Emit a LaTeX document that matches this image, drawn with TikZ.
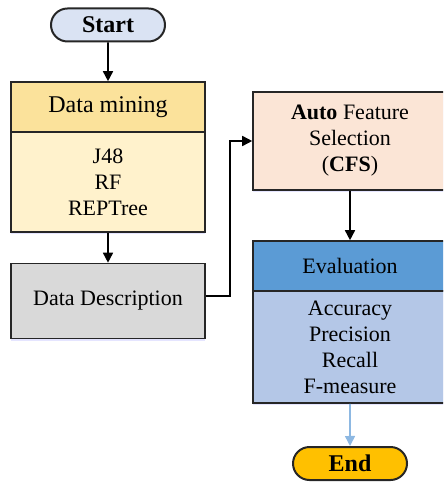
\documentclass[tikz,border=0pt]{standalone}
\usepackage{fontspec}
\setmainfont{Liberation Serif}
\usetikzlibrary{arrows.meta,shapes.misc,shadows}
\definecolor{startblue}{HTML}{DAE3F3}
\definecolor{minehead}{HTML}{FBE29B}
\definecolor{minebody}{HTML}{FFF2CC}
\definecolor{descgray}{HTML}{D9D9D9}
\definecolor{cfspeach}{HTML}{FBE5D6}
\definecolor{evalhead}{HTML}{5B9BD5}
\definecolor{evalbody}{HTML}{B4C7E7}
\definecolor{endgold}{HTML}{FFC000}
\definecolor{lightarrow}{HTML}{8DB8E2}
\begin{document}
\begin{tikzpicture}[x=0.5pt, y=-0.5pt,
    box/.style={draw=black!85, line width=0.8pt, rectangle, minimum width=97pt,
        align=center, font=\fontsize{11}{13}\selectfont,
        drop shadow={shadow xshift=0pt, shadow yshift=-1.2pt, fill=blue!25, opacity=0.4}},
    pill/.style={draw=black!85, line width=1pt, rounded rectangle, minimum width=57pt,
        minimum height=16.5pt, inner sep=0pt, font=\fontsize{12}{14}\selectfont\bfseries},
    flow/.style={line width=0.8pt, -{Triangle[length=5pt, width=5pt]}}]
    \path[use as bounding box, clip] (0,0) rectangle (443,485);
    \node[pill, fill=startblue] (start) at (108,25) {Start};
    \node[box, fill=minehead, minimum height=25pt, font=\fontsize{12}{14}\selectfont] (minehd) at (108,107) {Data mining};
    \node[box, fill=minebody, minimum height=50pt] (minebd) at (108,182) {J48\\RF\\REPTree};
    \node[box, fill=descgray, minimum height=37.5pt] (desc) at (108,301) {Data Description};
    \node[box, fill=cfspeach, minimum height=49pt] (cfs) at (350,141) {\textbf{Auto} Feature\\Selection\\(\textbf{CFS})};
    \node[box, fill=evalhead, minimum height=25pt] (evalhd) at (350,266) {Evaluation};
    \node[box, fill=evalbody, minimum height=56pt] (evalbd) at (350,347) {Accuracy\\Precision\\Recall\\F-measure};
    \node[pill, fill=endgold] (end) at (350,463.5) {End};
    \draw[flow] (start) -- (minehd);
    \draw[flow] (minebd) -- (desc);
    \draw[flow] ([yshift=2.5pt]desc.east) -- ++(24,0) |- (cfs.west);
    \draw[flow] (cfs) -- (evalhd);
    \draw[flow, draw=lightarrow, fill=lightarrow] (evalbd) -- (end);
\end{tikzpicture}
\end{document}
